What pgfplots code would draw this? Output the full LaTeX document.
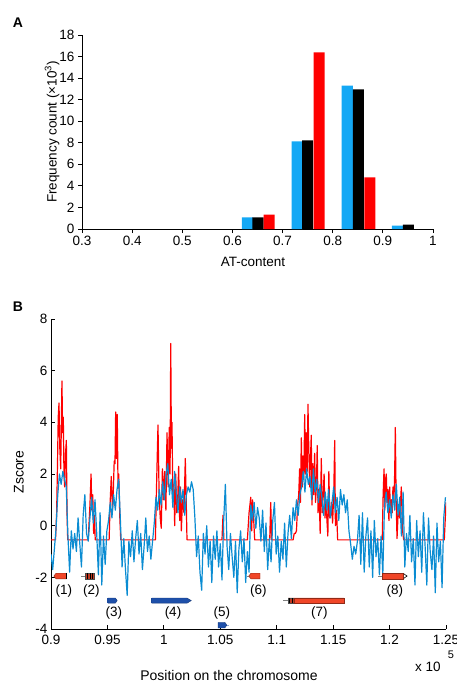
\documentclass[border=0pt]{standalone}
\usepackage{pgfplots}
\pgfplotsset{compat=1.18}
\usepackage{fontspec}
\setmainfont{Liberation Sans}
\definecolor{barblue}{RGB}{20,168,245}
\definecolor{zblue}{RGB}{10,140,210}
\definecolor{genered}{RGB}{240,70,40}
\definecolor{geneblue}{RGB}{30,80,170}
\begin{document}
\begin{tikzpicture}
\useasboundingbox (0,0) rectangle (456pt,-682pt);
\node[font=\bfseries\fontsize{14}{16}\selectfont] at (18pt,-23pt) {A};
\node[font=\bfseries\fontsize{14}{16}\selectfont] at (18pt,-307pt) {B};
% ---------------- Panel A
\begin{axis}[at={(82pt,-229pt)}, anchor=south west, scale only axis,
  width=351pt, height=194pt, xmin=0.3, xmax=1, ymin=0, ymax=18,
  axis lines*=left, tick align=outside,
  xtick={0.3,0.4,0.5,0.6,0.7,0.8,0.9,1}, xticklabels={0.3,0.4,0.5,0.6,0.7,0.8,0.9,1},
  ytick={0,2,4,6,8,10,12,14,16,18}, yticklabels={0,2,4,6,8,10,12,14,16,18},
  axis line style={line width=0.8pt}, tick style={black, line width=0.8pt},
  major tick length=4pt,
  ticklabel style={font=\fontsize{13.5}{15}\selectfont},
  clip=false]
\addplot[ybar, bar width=0.022, fill=barblue, draw=none] coordinates {(0.630,1.08)(0.729,8.13)(0.829,13.3)(0.929,0.31)};
\addplot[ybar, bar width=0.022, fill=black, draw=none] coordinates {(0.651,1.08)(0.750,8.23)(0.851,12.96)(0.951,0.40)};
\addplot[ybar, bar width=0.022, fill=red, draw=none] coordinates {(0.673,1.33)(0.773,16.39)(0.874,4.79)};
\end{axis}
\node[rotate=90, font=\fontsize{13.5}{15}\selectfont] at (52pt,-132pt) {Frequency count (×10\textsuperscript{3})};
\node[font=\fontsize{13.5}{15}\selectfont] at (253pt,-262pt) {AT-content};
% ---------------- Panel B
\begin{axis}[at={(51pt,-629pt)}, anchor=south west, scale only axis,
  width=395pt, height=310pt, xmin=0.9, xmax=1.25, ymin=-4, ymax=8,
  axis lines*=left, tick align=inside,
  xtick={0.9,0.95,1,1.05,1.1,1.15,1.2,1.25}, xticklabels={0.9,0.95,1,1.05,1.1,1.15,1.2,1.25},
  ytick={-4,-2,0,2,4,6,8}, yticklabels={-4,-2,0,2,4,6,8},
  axis line style={line width=0.8pt}, tick style={black, line width=0.8pt},
  major tick length=4pt,
  ticklabel style={font=\fontsize{13.5}{15}\selectfont},
  xticklabel style={yshift=-3pt}]
\addplot[red, line width=1.2pt, line join=round] coordinates {
(0.9000,-0.55)(0.9040,-0.55)(0.9050,0.5)(0.9058,2.5)(0.9064,4.2)(0.9071,4.75)(0.9078,3.0)(0.9086,2.2)(0.9092,4.0)(0.9097,5.6)(0.9103,3.6)(0.9109,4.2)(0.9115,2.0)(0.9121,1.5)(0.9129,2.8)(0.9136,3.3)(0.9142,0.5)(0.9148,-0.55)
(0.9330,-0.55)(0.9345,0.8)(0.9355,2.0)(0.9362,0.6)(0.9370,1.2)(0.9378,-0.3)(0.9385,0.4)(0.9392,-0.55)
(0.9515,-0.55)(0.9525,1.0)(0.9534,1.9)(0.9545,0.6)(0.9552,1.3)(0.9560,2.5)(0.9567,2.4)(0.9573,4.4)(0.9580,2.6)(0.9587,4.3)(0.9594,1.5)(0.9600,2.0)(0.9610,0.3)(0.9618,-0.55)
(0.9925,-0.55)(0.9935,1.5)(0.9948,3.9)(0.9958,1.2)(0.9968,0.3)(0.9977,-0.1)(0.9987,2.2)(0.9997,1.0)(1.0007,2.1)(1.0018,0.6)(1.0028,3.6)(1.0038,1.5)(1.0048,3.8)(1.0055,2.0)(1.0061,7.05)(1.0067,3.0)(1.0072,4.0)(1.0080,1.0)(1.0088,1.6)(1.0096,0.0)(1.0105,2.0)(1.0115,0.5)(1.0124,1.2)(1.0131,2.3)(1.0140,0.2)(1.0148,1.5)(1.0155,-0.2)(1.0165,1.0)(1.0178,0.5)(1.0190,2.6)(1.0198,1.0)(1.0205,-0.55)
(1.0515,-0.55)(1.0524,0.4)(1.0532,-0.55)
(1.0740,-0.55)(1.0755,0.5)(1.0770,1.1)(1.0778,-0.2)(1.0786,1.0)(1.0795,0.3)(1.0805,-0.55)
(1.0938,-0.55)(1.0947,0.9)(1.0955,-0.55)
(1.1145,-0.55)(1.1155,-0.3)(1.1165,-0.3)(1.1175,-0.2)(1.1185,0.8)(1.1195,1.2)(1.1203,2.2)(1.1210,0.9)(1.1218,3.4)(1.1226,1.5)(1.1233,2.7)(1.1240,1.8)(1.1248,4.3)(1.1255,2.0)(1.1262,3.6)(1.1270,2.1)(1.1277,4.7)(1.1284,3.0)(1.1292,1.5)(1.1299,2.6)(1.1306,3.5)(1.1313,0.8)(1.1320,2.4)(1.1328,1.2)(1.1336,2.8)(1.1344,0.9)(1.1352,1.6)(1.1359,3.1)(1.1366,0.5)(1.1375,1.4)(1.1385,-0.3)(1.1395,2.6)(1.1403,0.5)(1.1412,1.2)(1.1420,2.0)(1.1428,0.3)(1.1437,1.0)(1.1445,0.2)(1.1453,-0.4)(1.1462,2.1)(1.1470,0.3)(1.1478,0.4)(1.1486,0.9)(1.1495,0.1)(1.1505,1.2)(1.1514,3.3)(1.1520,0.0)(1.1530,0.6)(1.1540,-0.55)
(1.1935,-0.55)(1.1943,1.2)(1.1951,2.2)(1.1958,0.6)(1.1965,1.8)(1.1971,2.0)(1.1978,0.9)(1.1986,1.4)(1.1994,0.2)(1.2001,1.5)(1.2008,0.5)(1.2016,1.0)(1.2023,0.5)(1.2030,1.5)(1.2038,0.9)(1.2045,2.0)(1.2051,3.8)(1.2058,1.0)(1.2066,-0.5)(1.2078,0.7)(1.2090,0.3)(1.2104,1.5)(1.2115,-0.2)(1.2125,-0.55)
(1.2485,-0.55)(1.2500,0.9)};
\addplot[zblue, line width=1.2pt, line join=round] coordinates {
(0.9000,-1.1)(0.9015,-1.7)(0.9030,-0.9)(0.9045,-0.1)(0.9060,1.2)(0.9075,2.0)(0.9090,1.6)(0.9105,2.1)(0.9120,1.8)(0.9135,1.5)
(0.9150,-0.4)(0.9165,-1.8)(0.9180,-0.2)(0.9195,-0.9)(0.9210,-0.3)(0.9225,-1.0)(0.9240,0.3)(0.9255,-0.7)(0.9270,-1.6)(0.9285,0.4)
(0.9300,1.2)(0.9315,-0.3)(0.9330,-0.6)(0.9345,0.3)(0.9360,1.1)(0.9375,0.1)(0.9390,1.0)(0.9405,-0.3)(0.9420,-1.9)(0.9435,0.5)
(0.9450,-2.3)(0.9465,-0.4)(0.9480,-1.5)(0.9495,-0.2)(0.9510,0.2)(0.9525,0.9)(0.9540,0.3)(0.9555,1.2)(0.9570,0.6)(0.9585,1.4)
(0.9600,1.8)(0.9615,0.2)(0.9630,-1.6)(0.9645,-0.5)(0.9660,-1.7)(0.9675,-2.7)(0.9690,-0.6)(0.9705,-1.2)(0.9720,-0.2)(0.9735,-1.4)
(0.9750,-0.5)(0.9765,0.2)(0.9780,-1.1)(0.9795,-0.3)(0.9810,-1.7)(0.9825,-0.8)(0.9840,0.3)(0.9855,-1.0)(0.9870,-0.4)(0.9885,-1.3)
(0.9900,-0.6)(0.9915,0.1)(0.9930,1.1)(0.9945,0.6)(0.9960,1.4)(0.9975,0.8)(0.9990,1.7)(1.0005,1.0)(1.0020,2.0)(1.0035,2.4)
(1.0050,1.2)(1.0065,1.8)(1.0080,0.7)(1.0095,2.1)(1.0110,1.3)(1.0125,0.5)(1.0140,1.5)(1.0155,0.9)(1.0170,1.4)(1.0185,0.4)
(1.0200,1.2)(1.0215,1.5)(1.0230,1.3)(1.0245,1.7)(1.0260,1.4)(1.0275,0.3)(1.0290,-1.2)(1.0305,-0.4)(1.0320,-1.8)(1.0335,-2.5)
(1.0350,-0.3)(1.0365,-1.1)(1.0380,0.0)(1.0395,-1.6)(1.0410,-0.6)(1.0425,-2.2)(1.0440,-0.4)(1.0455,-1.3)(1.0470,-0.2)(1.0485,-1.6)
(1.0500,-0.7)(1.0515,-2.1)(1.0530,0.2)(1.0545,1.6)(1.0560,-0.8)(1.0575,-1.7)(1.0590,-0.3)(1.0605,-1.2)(1.0620,-2.0)(1.0635,-0.6)
(1.0650,-2.6)(1.0665,-0.9)(1.0680,-0.2)(1.0695,-1.4)(1.0710,-0.5)(1.0725,-2.2)(1.0740,-1.0)(1.0755,-1.8)(1.0770,0.8)(1.0785,0.2)
(1.0800,0.9)(1.0815,-0.1)(1.0830,0.7)(1.0845,0.3)(1.0860,-0.6)(1.0875,0.6)(1.0890,-1.0)(1.0905,0.1)(1.0920,-1.7)(1.0935,-0.5)
(1.0950,-1.4)(1.0965,0.2)(1.0980,0.9)(1.0995,-1.1)(1.1010,-0.4)(1.1025,-1.8)(1.1040,-0.6)(1.1055,-1.3)(1.1070,0.1)(1.1085,-1.6)
(1.1100,-0.3)(1.1115,0.4)(1.1130,-0.5)(1.1145,0.7)(1.1160,0.2)(1.1175,1.0)(1.1190,0.4)(1.1205,1.2)(1.1220,1.5)(1.1235,2.1)
(1.1250,1.3)(1.1265,2.2)(1.1280,1.6)(1.1295,1.9)(1.1310,1.0)(1.1325,2.2)(1.1340,1.3)(1.1355,1.8)(1.1370,0.9)(1.1385,1.6)
(1.1400,1.1)(1.1415,0.4)(1.1430,1.3)(1.1445,0.6)(1.1460,1.4)(1.1475,0.3)(1.1490,0.9)(1.1505,1.5)(1.1520,0.5)(1.1535,1.1)
(1.1550,0.2)(1.1565,1.4)(1.1580,0.8)(1.1595,1.2)(1.1610,0.5)(1.1625,1.0)(1.1640,-0.2)(1.1655,-0.7)(1.1670,-1.3)(1.1685,-0.8)
(1.1700,-1.1)(1.1715,-0.6)(1.1730,0.4)(1.1745,-1.5)(1.1760,0.5)(1.1775,-1.8)(1.1790,-0.4)(1.1805,0.3)(1.1820,-1.6)(1.1835,-0.2)
(1.1850,-2.0)(1.1865,0.2)(1.1880,-1.2)(1.1895,-0.5)(1.1910,-1.9)(1.1925,-0.4)(1.1940,-1.9)(1.1955,0.8)(1.1970,1.3)(1.1985,0.5)
(1.2000,1.0)(1.2015,0.3)(1.2030,1.2)(1.2045,0.6)(1.2060,1.6)(1.2075,0.4)(1.2090,1.1)(1.2105,-0.4)(1.2120,1.3)(1.2135,-1.6)
(1.2150,-0.3)(1.2165,-1.0)(1.2180,0.4)(1.2195,-1.4)(1.2210,-0.5)(1.2225,-2.3)(1.2240,0.2)(1.2255,-1.2)(1.2270,-0.2)(1.2285,-1.8)
(1.2300,0.5)(1.2315,-0.8)(1.2330,-2.3)(1.2345,0.3)(1.2360,-1.0)(1.2375,-1.7)(1.2390,-0.4)(1.2405,-2.6)(1.2420,0.1)(1.2435,-1.4)
(1.2450,-0.6)(1.2465,-2.4)(1.2480,0.3)(1.2495,1.1)};
% genes
\addplot[fill=genered, draw=genered!60!black, line width=0.4pt] coordinates {(0.9025,-1.95)(0.9045,-1.84)(0.9136,-1.84)(0.9136,-2.06)(0.9045,-2.06)(0.9025,-1.95)};
\addplot[black, line width=0.8pt] coordinates {(0.9139,-1.83)(0.9139,-2.07)};
\addplot[gray, line width=0.5pt] coordinates {(0.9270,-1.95)(0.9304,-1.95)};
\addplot[fill=genered!80!black, draw=black!70, line width=0.4pt] coordinates {(0.9304,-1.84)(0.9387,-1.84)(0.9387,-2.06)(0.9304,-2.06)(0.9304,-1.84)};
\addplot[black, line width=0.7pt] coordinates {(0.9325,-1.84)(0.9325,-2.06)};
\addplot[black, line width=0.7pt] coordinates {(0.9345,-1.84)(0.9345,-2.06)};
\addplot[black, line width=0.7pt] coordinates {(0.9365,-1.84)(0.9365,-2.06)};
\addplot[geneblue, line width=0.6pt] coordinates {(0.9500,-2.80)(0.9500,-3.00)};
\addplot[fill=geneblue, draw=geneblue!70!black, line width=0.4pt] coordinates {(0.9505,-2.80)(0.9570,-2.80)(0.9587,-2.90)(0.9570,-3.00)(0.9505,-3.00)(0.9505,-2.80)};
\addplot[geneblue, line width=0.6pt] coordinates {(0.9885,-2.80)(0.9885,-3.00)};
\addplot[fill=geneblue, draw=geneblue!70!black, line width=0.4pt] coordinates {(0.9893,-2.80)(1.0205,-2.80)(1.0243,-2.90)(1.0205,-3.00)(0.9893,-3.00)(0.9893,-2.80)};
\addplot[geneblue!50, line width=0.6pt] coordinates {(1.0545,-3.85)(1.0578,-3.85)};
\addplot[fill=geneblue, draw=geneblue!70!black, line width=0.4pt] coordinates {(1.0480,-3.74)(1.0540,-3.74)(1.0558,-3.85)(1.0540,-3.96)(1.0480,-3.96)(1.0480,-3.74)};
\addplot[gray, line width=0.5pt] coordinates {(1.0734,-1.95)(1.0760,-1.95)};
\addplot[fill=genered, draw=genered!60!black, line width=0.4pt] coordinates {(1.0752,-1.95)(1.0772,-1.84)(1.0852,-1.84)(1.0852,-2.06)(1.0772,-2.06)(1.0752,-1.95)};
\addplot[gray, line width=0.5pt] coordinates {(1.1058,-2.90)(1.1100,-2.90)};
\addplot[fill=genered!80!black, draw=black!70, line width=0.4pt] coordinates {(1.1100,-2.79)(1.1155,-2.79)(1.1155,-3.01)(1.1100,-3.01)(1.1100,-2.79)};
\addplot[black, line width=0.6pt] coordinates {(1.1115,-2.79)(1.1115,-3.01)};
\addplot[black, line width=0.6pt] coordinates {(1.1135,-2.79)(1.1135,-3.01)};
\addplot[fill=genered, draw=genered!60!black, line width=0.4pt] coordinates {(1.1155,-2.79)(1.1596,-2.79)(1.1596,-3.01)(1.1155,-3.01)(1.1155,-2.79)};
\addplot[gray, line width=0.5pt] coordinates {(1.1900,-1.95)(1.1939,-1.95)};
\addplot[fill=genered, draw=genered!60!black, line width=0.4pt] coordinates {(1.1939,-1.84)(1.2121,-1.84)(1.2121,-2.06)(1.1939,-2.06)(1.1939,-1.84)};
\addplot[black, line width=0.6pt] coordinates {(1.2125,-1.86)(1.2155,-1.95)(1.2125,-2.04)};
\begin{scope}[every node/.style={font=\fontsize{13.5}{15}\selectfont}]
\node at (axis cs:0.9115,-2.52) {(1)};
\node at (axis cs:0.9357,-2.52) {(2)};
\node at (axis cs:0.9558,-3.39) {(3)};
\node at (axis cs:1.0081,-3.39) {(4)};
\node at (axis cs:1.0515,-3.39) {(5)};
\node at (axis cs:1.0837,-2.52) {(6)};
\node at (axis cs:1.1377,-3.37) {(7)};
\node at (axis cs:1.2048,-2.52) {(8)};
\end{scope}
\end{axis}
\node[rotate=90, font=\fontsize{14}{16}\selectfont] at (19pt,-472pt) {Zscore};
\node[font=\fontsize{14}{16}\selectfont] at (229pt,-675pt) {Position on the chromosome};
\node[font=\fontsize{13.5}{15}\selectfont] at (428pt,-667pt) {x 10};
\node[font=\fontsize{11}{13}\selectfont] at (451pt,-655pt) {5};
\end{tikzpicture}
\end{document}
